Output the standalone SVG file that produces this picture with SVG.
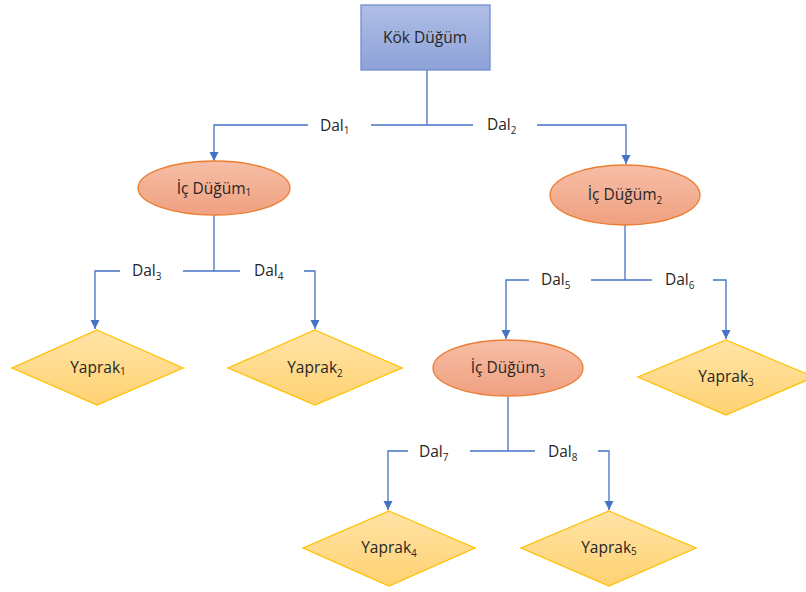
<svg xmlns="http://www.w3.org/2000/svg" width="806" height="592" viewBox="0 0 806 592">
<defs>
<linearGradient id="gBlue" x1="0" y1="0" x2="0" y2="1"><stop offset="0" stop-color="#b0bee6"/><stop offset="1" stop-color="#8ea2d8"/></linearGradient>
<linearGradient id="gOr" x1="0" y1="0" x2="0" y2="1"><stop offset="0" stop-color="#f6bea6"/><stop offset="1" stop-color="#f0a080"/></linearGradient>
<linearGradient id="gYe" x1="0" y1="0" x2="0" y2="1"><stop offset="0" stop-color="#ffe3a6"/><stop offset="1" stop-color="#ffd272"/></linearGradient>
<marker id="arr" markerUnits="userSpaceOnUse" markerWidth="10" markerHeight="10" refX="9" refY="5" orient="auto"><path d="M0,0.5 L9,5 L0,9.5 Z" fill="#4472c4"/></marker>
<style>
.c{fill:none;stroke:#4472c4;stroke-width:1.3}
.t{font-family:"Open Sans","Liberation Sans",sans-serif;font-size:15.5px;fill:#262626;text-anchor:middle}
.l{font-family:"Open Sans","Liberation Sans",sans-serif;font-size:15.5px;fill:#262626}
.s{font-size:10px}
.root{fill:url(#gBlue);stroke:#6f8fd0;stroke-width:1.3}
.ell{fill:url(#gOr);stroke:#ed7d31;stroke-width:1.3}
.dia{fill:url(#gYe);stroke:#ffc000;stroke-width:1.3}
</style>
</defs>
<g id="connectors">
<path class="c" d="M427,70 V125"/>
<path class="c" d="M308,125 H214 V161" marker-end="url(#arr)"/>
<path class="c" d="M371,125 H473"/>
<path class="c" d="M537,125 H626 V164" marker-end="url(#arr)"/>
<path class="c" d="M214,215 V271"/>
<path class="c" d="M120,271 H95 V329" marker-end="url(#arr)"/>
<path class="c" d="M183,271 H240"/>
<path class="c" d="M304,271 H315 V329" marker-end="url(#arr)"/>
<path class="c" d="M625,225 V280"/>
<path class="c" d="M529,280 H506 V339" marker-end="url(#arr)"/>
<path class="c" d="M591,280 H652"/>
<path class="c" d="M713,280 H726 V339" marker-end="url(#arr)"/>
<path class="c" d="M508,397 V451"/>
<path class="c" d="M408,451 H388 V510" marker-end="url(#arr)"/>
<path class="c" d="M470,451 H535"/>
<path class="c" d="M598,451 H609 V510" marker-end="url(#arr)"/>
<text class="l" x="320" y="131">Dal<tspan class="s" dy="3">1</tspan></text>
<text class="l" x="487" y="130">Dal<tspan class="s" dy="4">2</tspan></text>
<text class="l" x="132" y="276">Dal<tspan class="s" dy="4">3</tspan></text>
<text class="l" x="254" y="276">Dal<tspan class="s" dy="4">4</tspan></text>
<text class="l" x="541" y="285">Dal<tspan class="s" dy="4">5</tspan></text>
<text class="l" x="665" y="285">Dal<tspan class="s" dy="4">6</tspan></text>
<text class="l" x="419" y="457">Dal<tspan class="s" dy="4">7</tspan></text>
<text class="l" x="548" y="457">Dal<tspan class="s" dy="4">8</tspan></text>
</g>
<g id="root"><rect class="root" x="361" y="5" width="129" height="65"/><text class="t" x="425" y="43">Kök Düğüm</text></g>
<g id="ic1"><ellipse class="ell" cx="214" cy="188" rx="76" ry="27"/><text class="t" x="214" y="194">İç Düğüm<tspan class="s" dy="2">1</tspan></text></g>
<g id="ic2"><ellipse class="ell" cx="625" cy="195" rx="75" ry="30"/><text class="t" x="625" y="200">İç Düğüm<tspan class="s" dy="4">2</tspan></text></g>
<g id="ic3"><ellipse class="ell" cx="508" cy="368" rx="75" ry="28"/><text class="t" x="508" y="373">İç Düğüm<tspan class="s" dy="4">3</tspan></text></g>
<g id="y1"><polygon class="dia" points="97,330 183,368 97,405 12,368"/><text class="t" x="98" y="373">Yaprak<tspan class="s" dy="2">1</tspan></text></g>
<g id="y2"><polygon class="dia" points="315,330 402,368 315,405 228,368"/><text class="t" x="315" y="373">Yaprak<tspan class="s" dy="4">2</tspan></text></g>
<g id="y3"><polygon class="dia" points="726,340 814,377 726,415 638,377"/><text class="t" x="726" y="382">Yaprak<tspan class="s" dy="4">3</tspan></text></g>
<g id="y4"><polygon class="dia" points="389,511 475,548 389,586 303,548"/><text class="t" x="389" y="553">Yaprak<tspan class="s" dy="4">4</tspan></text></g>
<g id="y5"><polygon class="dia" points="609,511 696,548 609,586 521,548"/><text class="t" x="609" y="553">Yaprak<tspan class="s" dy="2">5</tspan></text></g>
</svg>
